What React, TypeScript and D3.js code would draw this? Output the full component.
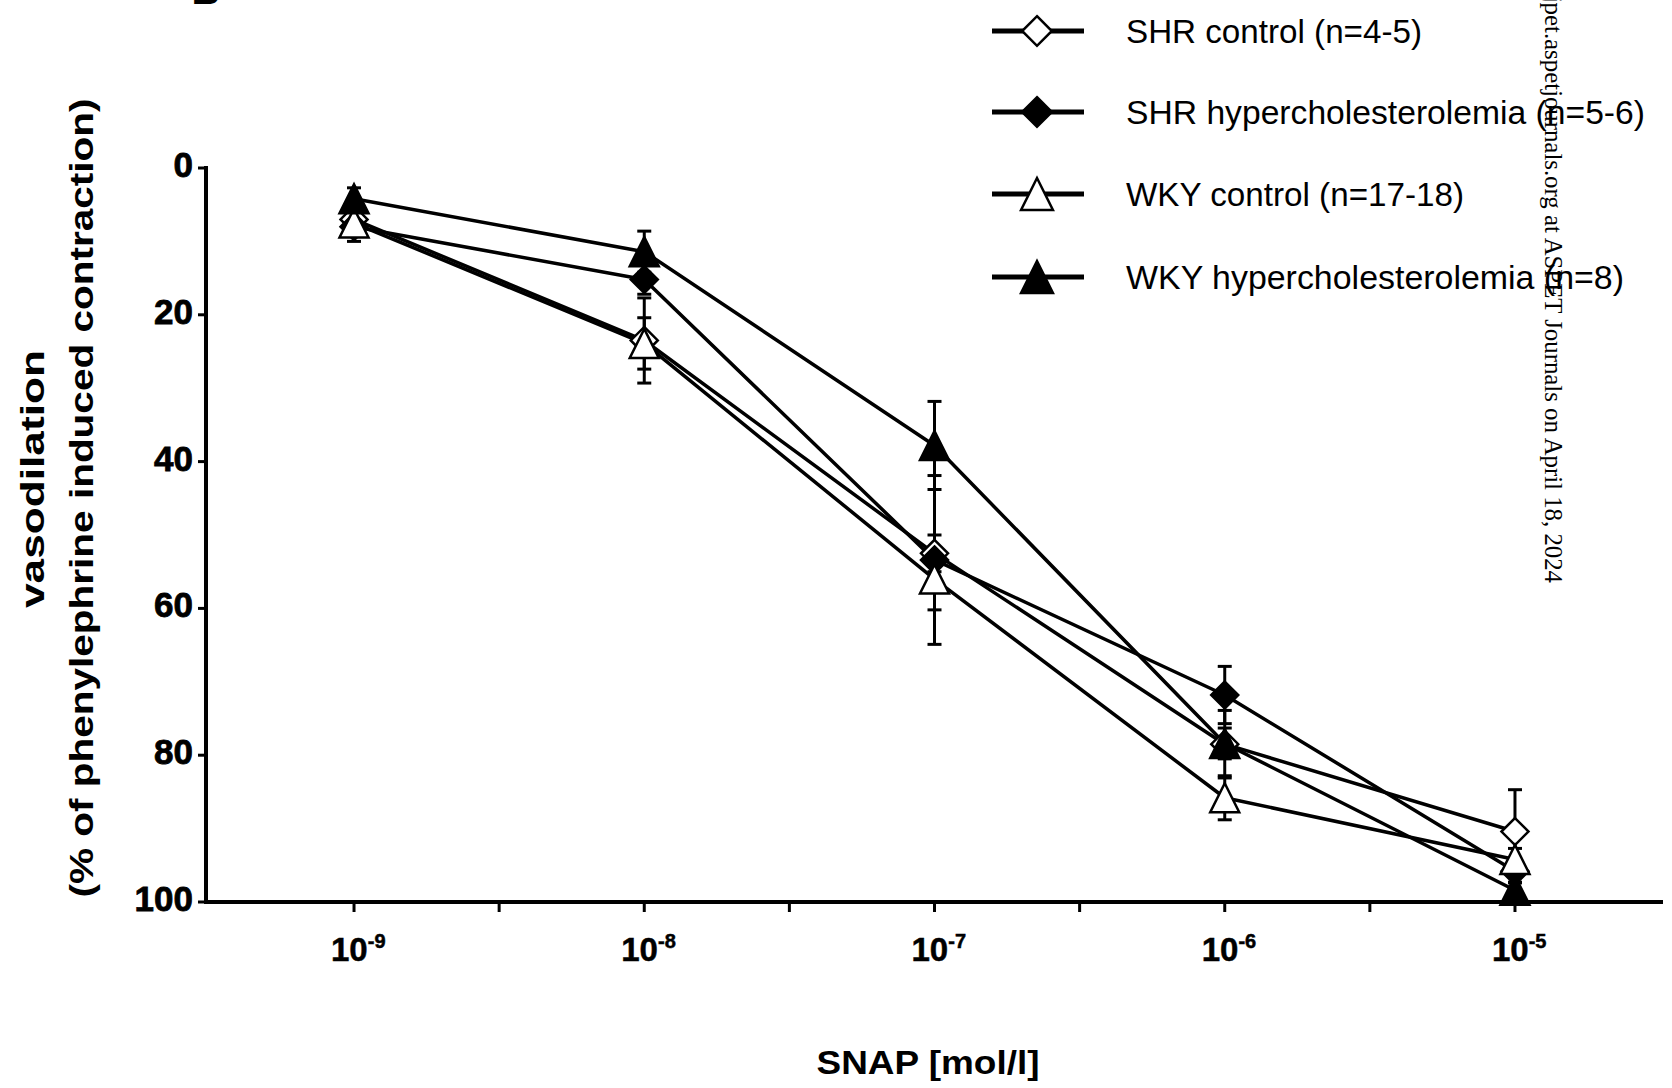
import React from 'react';
import * as d3 from 'd3';

// SNAP concentrations (mol/l)
const concentrations = [1e-9, 1e-8, 1e-7, 1e-6, 1e-5];
const exponents = ['-9', '-8', '-7', '-6', '-5'];
const minorExponents = [-8.5, -7.5, -6.5, -5.5];
const yTicks = [0, 20, 40, 60, 80, 100];

// vasodilation (% of phenylephrine induced contraction), mean and error
const shrControl = [7, 23.5, 52.5, 78.5, 90.4];
const shrControlErr = [1.5, 5.8, 2.5, 4.6, 5.7];
const shrHyper = [8, 15.2, 53.4, 71.8, 95.8];
const shrHyperErr = [2, 2, 11.5, 3.9, 1.5];
const wkyControl = [7.5, 23.9, 56, 85.8, 94.2];
const wkyControlErr = [1, 3.5, 4.2, 3, 1.5];
const wkyHyper = [4.2, 11.4, 37.8, 78.4, 98.4];
const wkyHyperErr = [1.5, 2.8, 6, 2.1, 1];

const seriesNames = [
	'SHR control (n=4-5)',
	'SHR hypercholesterolemia (n=5-6)',
	'WKY control (n=17-18)',
	'WKY hypercholesterolemia (n=8)'
];
const legendWidths = [296, 519, 338, 498];

const series = [
	{ name: seriesNames[0], values: shrControl, err: shrControlErr, shape: 'diamond', filled: false },
	{ name: seriesNames[1], values: shrHyper, err: shrHyperErr, shape: 'diamond', filled: true },
	{ name: seriesNames[2], values: wkyControl, err: wkyControlErr, shape: 'triangle', filled: false },
	{ name: seriesNames[3], values: wkyHyper, err: wkyHyperErr, shape: 'triangle', filled: true }
];

const FONT = 'Liberation Sans, Arial, Helvetica, sans-serif';

function markerPath(shape: string, cx: number, cy: number, scale = 1) {
	if (shape === 'diamond') {
		const r = 13.5 * scale;
		return `M${cx},${cy - r}L${cx + r},${cy}L${cx},${cy + r}L${cx - r},${cy}Z`;
	}
	const w = 14.5 * scale;
	const h = 29 * scale;
	return `M${cx},${cy - h / 2}L${cx + w},${cy + h / 2}L${cx - w},${cy + h / 2}Z`;
}

export default function App() {
	const width = 1672;
	const height = 1088;

	const left = 206;
	const right = 1663;
	const top = 168;
	const bottom = 902;

	const x = d3.scaleLog().domain([Math.pow(10, -9.51), Math.pow(10, -4.49)]).range([left, right]);
	const y = d3.scaleLinear().domain([0, 100]).range([top, bottom]);

	const line = d3.line<number>()
		.x((d, i) => x(concentrations[i]))
		.y(d => y(d));

	const legendRows = [31, 112, 194, 277];

	return (
		<svg width={width} height={height} style={{ position: 'absolute', left: 0, top: 0, background: '#fff' }}
			fontFamily={FONT}>
			<rect x={0} y={0} width={width} height={height} fill="#fff"/>

			{/* cut-off panel letter */}
			<text x={206} y={4} fontSize={40} fontWeight="bold" textAnchor="middle">B</text>

			{/* lines */}
			{series.map((s, k) => (
				<path key={'l' + k} d={line(s.values) || ''} fill="none" stroke="#000" strokeWidth={3.5}
					strokeLinejoin="round"/>
			))}

			{/* error bars */}
			{series.map((s, k) => (
				<g key={'e' + k} stroke="#000" strokeWidth={3}>
					{s.values.map((v, i) => {
						const cx = x(concentrations[i]);
						const y1 = y(v - s.err[i]);
						const y2 = y(v + s.err[i]);
						return (
							<g key={i}>
								<line x1={cx} x2={cx} y1={y1} y2={y2}/>
								<line x1={cx - 7} x2={cx + 7} y1={y1} y2={y1}/>
								<line x1={cx - 7} x2={cx + 7} y1={y2} y2={y2}/>
							</g>
						);
					})}
				</g>
			))}

			{/* markers */}
			{series.map((s, k) => (
				<g key={'m' + k}>
					{s.values.map((v, i) => (
						<path key={i} d={markerPath(s.shape, x(concentrations[i]), y(v))}
							fill={s.filled ? '#000' : '#fff'} stroke="#000" strokeWidth={2.5}
							strokeLinejoin="miter"/>
					))}
				</g>
			))}

			{/* y axis */}
			<line x1={left} x2={left} y1={top - 2} y2={bottom + 2} stroke="#000" strokeWidth={4}/>
			{yTicks.map(t => (
				<g key={t}>
					<line x1={left - 8} x2={left} y1={y(t)} y2={y(t)} stroke="#000" strokeWidth={3}/>
					<text x={193} y={y(t) + 9} fontSize={35} fontWeight="bold" textAnchor="end"
						stroke="#000" strokeWidth={0.8}>{t}</text>
				</g>
			))}

			{/* x axis */}
			<line x1={left - 2} x2={right} y1={bottom} y2={bottom} stroke="#000" strokeWidth={4}/>
			{concentrations.map((c, i) => (
				<g key={'t' + i}>
					<line x1={x(c)} x2={x(c)} y1={bottom} y2={bottom + 10} stroke="#000" strokeWidth={3}/>
					<text x={x(c) - 23} y={961} fontSize={33} fontWeight="bold" stroke="#000" strokeWidth={0.5}>
						10<tspan dy={-13} fontSize={20}>{exponents[i]}</tspan>
					</text>
				</g>
			))}
			{minorExponents.map(e => (
				<line key={e} x1={x(Math.pow(10, e))} x2={x(Math.pow(10, e))} y1={bottom} y2={bottom + 10}
					stroke="#000" strokeWidth={3}/>
			))}

			{/* axis titles */}
			<text x={928} y={1074} fontSize={33} fontWeight="bold" textAnchor="middle"
				textLength={223} lengthAdjust="spacingAndGlyphs">SNAP [mol/l]</text>
			<text transform="translate(44,479) rotate(-90)" fontSize={33} fontWeight="bold" textAnchor="middle"
				textLength={258} lengthAdjust="spacingAndGlyphs">vasodilation</text>
			<text transform="translate(93,498) rotate(-90)" fontSize={33} fontWeight="bold" textAnchor="middle"
				textLength={799} lengthAdjust="spacingAndGlyphs">(% of phenylephrine induced contraction)</text>

			{/* legend */}
			{series.map((s, k) => (
				<g key={'lg' + k}>
					<line x1={992} x2={1084} y1={legendRows[k]} y2={legendRows[k]} stroke="#000" strokeWidth={5}/>
					<path d={markerPath(s.shape, 1037, legendRows[k], 1.1)} fill={s.filled ? '#000' : '#fff'}
						stroke="#000" strokeWidth={2.5}/>
					<text x={1126} y={legendRows[k] + 12} fontSize={33} textLength={legendWidths[k]}
						lengthAdjust="spacingAndGlyphs">{s.name}</text>
				</g>
			))}

			{/* download watermark */}
			<text transform="translate(1545,583) rotate(90)" fontSize={24.8} fontFamily="Liberation Serif, Times New Roman, serif"
				textAnchor="end">Downloaded from jpet.aspetjournals.org at ASPET Journals on April 18, 2024</text>
		</svg>
	);
}
